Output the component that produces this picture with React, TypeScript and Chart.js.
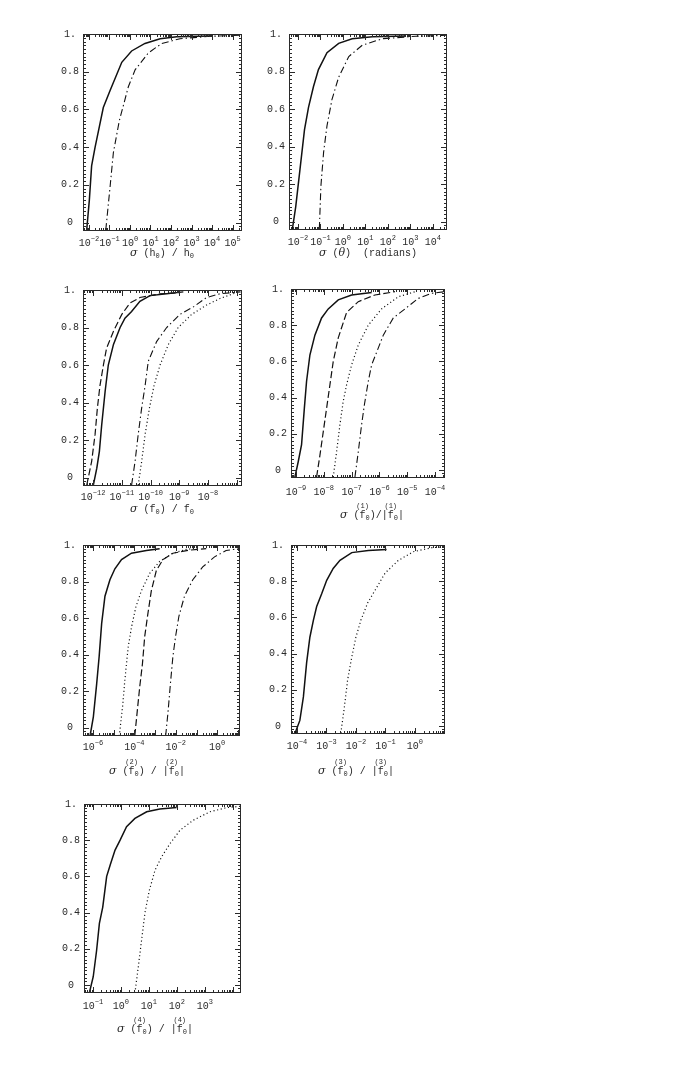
import React, { useEffect, useRef } from "react";
import { Chart, registerables } from "chart.js";
Chart.register(...registerables);

// ---------- data (x as log10 values, y as cumulative fraction) ----------
const Y_TICKS = [0, 0.2, 0.4, 0.6, 0.8, 1];

const p1SolidLogX = [-2.11, -1.98, -1.87, -1.7, -1.49, -1.3, -0.97, -0.4, 0.08, 0.73, 1.47, 2.28, 3.9];
const p1SolidY = [-0.04, 0.12, 0.3, 0.4, 0.51, 0.61, 0.7, 0.85, 0.91, 0.95, 0.975, 0.985, 0.99];
const p1DashDotLogX = [-1.18, -0.97, -0.81, -0.52, -0.08, 0.25, 0.9, 1.55, 2.44, 3.9, 5.37];
const p1DashDotY = [-0.04, 0.19, 0.37, 0.54, 0.72, 0.81, 0.9, 0.95, 0.975, 0.988, 0.993];

const p2SolidLogX = [-2.25, -2.1, -1.91, -1.71, -1.53, -1.31, -1.09, -0.71, -0.19, 0.41, 1.31, 2.8];
const p2SolidY = [-0.04, 0.08, 0.28, 0.49, 0.61, 0.72, 0.81, 0.9, 0.95, 0.975, 0.985, 0.99];
const p2DashDotLogX = [-1.05, -0.98, -0.86, -0.71, -0.49, -0.19, 0.26, 0.86, 1.76, 3.25, 4.62];
const p2DashDotY = [-0.04, 0.19, 0.37, 0.51, 0.65, 0.77, 0.88, 0.94, 0.975, 0.988, 0.993];

const p3DashLogX = [-12.22, -12.05, -11.93, -11.85, -11.76, -11.64, -11.53, -11.29, -11.0, -10.72, -10.37, -9.67, -9.0];
const p3DashY = [-0.04, 0.085, 0.23, 0.37, 0.49, 0.6, 0.69, 0.78, 0.87, 0.93, 0.96, 0.98, 0.985];
const p3SolidLogX = [-11.99, -11.87, -11.78, -11.7, -11.58, -11.47, -11.29, -11.06, -10.89, -10.66, -10.37, -10.02, -9.44, -8.86];
const p3SolidY = [-0.04, 0.05, 0.14, 0.28, 0.46, 0.6, 0.71, 0.8, 0.85, 0.885, 0.94, 0.97, 0.98, 0.99];
const p3DashDotLogX = [-10.66, -10.54, -10.43, -10.31, -10.19, -10.08, -9.79, -9.44, -8.98, -8.51, -8.05, -7.58, -6.89];
const p3DashDotY = [-0.04, 0.085, 0.23, 0.37, 0.49, 0.62, 0.725, 0.8, 0.87, 0.91, 0.96, 0.98, 0.99];
const p3DotLogX = [-10.43, -10.31, -10.19, -10.04, -9.88, -9.67, -9.38, -9.04, -8.57, -8.05, -7.58, -7.12, -6.83];
const p3DotY = [-0.04, 0.085, 0.23, 0.37, 0.49, 0.6, 0.71, 0.8, 0.87, 0.92, 0.955, 0.98, 0.99];

const p4SolidLogX = [-9.04, -8.92, -8.8, -8.7, -8.62, -8.5, -8.32, -8.08, -7.84, -7.48, -7.0, -6.28];
const p4SolidY = [-0.04, 0.045, 0.14, 0.34, 0.49, 0.635, 0.745, 0.84, 0.89, 0.94, 0.967, 0.98];
const p4DashLogX = [-8.26, -8.14, -8.02, -7.9, -7.78, -7.66, -7.48, -7.18, -6.76, -6.16, -5.44];
const p4DashY = [-0.04, 0.08, 0.21, 0.34, 0.47, 0.6, 0.73, 0.87, 0.93, 0.967, 0.985];
const p4DotLogX = [-7.66, -7.54, -7.42, -7.3, -7.18, -7.0, -6.76, -6.4, -5.92, -5.32, -4.72];
const p4DotY = [-0.04, 0.1, 0.25, 0.38, 0.47, 0.58, 0.69, 0.8, 0.89, 0.957, 0.985];
const p4DashDotLogX = [-6.88, -6.76, -6.64, -6.54, -6.4, -6.28, -6.1, -5.86, -5.5, -5.08, -4.6, -4.12, -3.66];
const p4DashDotY = [-0.04, 0.1, 0.25, 0.36, 0.49, 0.58, 0.65, 0.745, 0.84, 0.89, 0.948, 0.976, 0.985];

const p5SolidLogX = [-6.14, -5.98, -5.82, -5.7, -5.58, -5.42, -5.18, -4.94, -4.62, -4.14, -3.42, -2.78];
const p5SolidY = [-0.045, 0.06, 0.24, 0.39, 0.57, 0.72, 0.81, 0.87, 0.92, 0.955, 0.97, 0.98];
const p5DotLogX = [-4.73, -4.57, -4.46, -4.3, -4.14, -3.93, -3.66, -3.26, -2.78, -2.14, -1.49, -0.85];
const p5DotY = [-0.045, 0.115, 0.26, 0.44, 0.55, 0.66, 0.75, 0.845, 0.91, 0.955, 0.976, 0.985];
const p5DashLogX = [-3.98, -3.87, -3.74, -3.61, -3.5, -3.34, -3.18, -2.94, -2.62, -2.14, -1.34, -0.53];
const p5DashY = [-0.045, 0.08, 0.225, 0.35, 0.5, 0.63, 0.75, 0.86, 0.92, 0.955, 0.972, 0.98];
const p5DashDotLogX = [-2.49, -2.38, -2.26, -2.14, -2.01, -1.85, -1.58, -1.18, -0.7, -0.13, 0.43, 1.07];
const p5DashDotY = [-0.045, 0.08, 0.24, 0.39, 0.5, 0.61, 0.72, 0.81, 0.88, 0.935, 0.97, 0.98];

const p6SolidLogX = [-4.06, -3.9, -3.78, -3.67, -3.56, -3.44, -3.33, -3.16, -2.99, -2.77, -2.54, -2.14, -1.58, -0.96];
const p6SolidY = [-0.04, 0.03, 0.16, 0.35, 0.49, 0.585, 0.66, 0.73, 0.805, 0.87, 0.915, 0.958, 0.97, 0.975];
const p6DotLogX = [-2.51, -2.39, -2.28, -2.14, -2.0, -1.83, -1.6, -1.35, -1.01, -0.56, -0.05, 0.57, 1.01];
const p6DotY = [-0.04, 0.105, 0.255, 0.38, 0.49, 0.585, 0.68, 0.75, 0.845, 0.915, 0.963, 0.985, 0.99];

const p7SolidLogX = [-1.13, -0.99, -0.87, -0.77, -0.65, -0.51, -0.37, -0.21, -0.03, 0.2, 0.5, 0.92, 1.39, 1.99];
const p7SolidY = [-0.045, 0.045, 0.19, 0.34, 0.43, 0.6, 0.67, 0.745, 0.8, 0.875, 0.92, 0.957, 0.972, 0.98];
const p7DotLogX = [0.5, 0.62, 0.74, 0.86, 1.01, 1.22, 1.46, 1.75, 2.11, 2.58, 3.18, 3.78, 4.25];
const p7DotY = [-0.045, 0.1, 0.25, 0.4, 0.52, 0.635, 0.71, 0.78, 0.855, 0.91, 0.957, 0.98, 0.987];

const p1Decades = [-2, -1, 0, 1, 2, 3, 4, 5];
const p2Decades = [-2, -1, 0, 1, 2, 3, 4];
const p3Decades = [-12, -11, -10, -9, -8];
const p4Decades = [-9, -8, -7, -6, -5, -4];
const p5Decades = [-6, -4, -2, 0];
const p6Decades = [-4, -3, -2, -1, 0];
const p7Decades = [-1, 0, 1, 2, 3];

// ---------- styling / layout ----------
const Y_MIN = -0.045;
const AXIS_W = 30;
const PAD_T = 12;
const PAD_R = 12;
const AXIS_H = 52;
const INK = "#2a2a2a";
const MONO = '"Liberation Mono", "DejaVu Sans Mono", monospace';

type Style = "solid" | "dash" | "dot" | "dashdot";
const DASH: Record<Style, number[]> = {
  solid: [],
  dash: [7, 3],
  dot: [1.1, 2.6],
  dashdot: [7, 3, 1.4, 3],
};
const WIDTH: Record<Style, number> = { solid: 1.5, dash: 1.2, dot: 1.2, dashdot: 1.1 };

type Part = { t: string; k?: "n" | "g" | "s" | "o" };
const P = (t: string, k: Part["k"] = "n"): Part => ({ t, k });

type Curve = { lx: number[]; y: number[]; s: Style };
type PanelCfg = {
  box: [number, number, number, number];
  minLog: number;
  maxLog: number;
  labels: number[];
  labelDy: number;
  title: Part[];
  titleX: number;
  titleY: number;
  curves: Curve[];
};

const fPart = (n: string, sep: string): Part[] => [
  P("σ", "g"), P(" ("), P("f"), P(`(${n})`, "o"), P("0", "s"), P(sep), P("f"), P(`(${n})`, "o"), P("0", "s"), P("|"),
];

const PANELS: PanelCfg[] = [
  {
    box: [83, 34, 242, 231], minLog: -2.29, maxLog: 5.46, labels: p1Decades, labelDy: 12,
    title: [P("σ", "g"), P(" (h"), P("0", "s"), P(") / h"), P("0", "s")], titleX: 162, titleY: 253,
    curves: [
      { lx: p1SolidLogX, y: p1SolidY, s: "solid" },
      { lx: p1DashDotLogX, y: p1DashDotY, s: "dashdot" },
    ],
  },
  {
    box: [289, 34, 447, 230], minLog: -2.4, maxLog: 4.63, labels: p2Decades, labelDy: 12,
    title: [P("σ", "g"), P(" ("), P("θ", "g"), P(")  (radians)")], titleX: 368, titleY: 253,
    curves: [
      { lx: p2SolidLogX, y: p2SolidY, s: "solid" },
      { lx: p2DashDotLogX, y: p2DashDotY, s: "dashdot" },
    ],
  },
  {
    box: [83, 290, 242, 486], minLog: -12.35, maxLog: -6.82, labels: p3Decades, labelDy: 11,
    title: [P("σ", "g"), P(" (f"), P("0", "s"), P(") / f"), P("0", "s")], titleX: 162, titleY: 509,
    curves: [
      { lx: p3DashLogX, y: p3DashY, s: "dash" },
      { lx: p3SolidLogX, y: p3SolidY, s: "solid" },
      { lx: p3DashDotLogX, y: p3DashDotY, s: "dashdot" },
      { lx: p3DotLogX, y: p3DotY, s: "dot" },
    ],
  },
  {
    box: [291, 289, 445, 478], minLog: -9.18, maxLog: -3.64, labels: p4Decades, labelDy: 14,
    title: fPart("1", ")/|"), titleX: 372, titleY: 515,
    curves: [
      { lx: p4SolidLogX, y: p4SolidY, s: "solid" },
      { lx: p4DashLogX, y: p4DashY, s: "dash" },
      { lx: p4DotLogX, y: p4DotY, s: "dot" },
      { lx: p4DashDotLogX, y: p4DashDotY, s: "dashdot" },
    ],
  },
  {
    box: [83, 545, 240, 736], minLog: -6.48, maxLog: 1.1, labels: p5Decades, labelDy: 11,
    title: fPart("2", ") / |"), titleX: 147, titleY: 771,
    curves: [
      { lx: p5SolidLogX, y: p5SolidY, s: "solid" },
      { lx: p5DotLogX, y: p5DotY, s: "dot" },
      { lx: p5DashLogX, y: p5DashY, s: "dash" },
      { lx: p5DashDotLogX, y: p5DashDotY, s: "dashdot" },
    ],
  },
  {
    box: [291, 545, 445, 734], minLog: -4.2, maxLog: 1.02, labels: p6Decades, labelDy: 12,
    title: fPart("3", ") / |"), titleX: 356, titleY: 771,
    curves: [
      { lx: p6SolidLogX, y: p6SolidY, s: "solid" },
      { lx: p6DotLogX, y: p6DotY, s: "dot" },
    ],
  },
  {
    box: [84, 804, 241, 993], minLog: -1.32, maxLog: 4.29, labels: p7Decades, labelDy: 13,
    title: fPart("4", ") / |"), titleX: 155, titleY: 1029,
    curves: [
      { lx: p7SolidLogX, y: p7SolidY, s: "solid" },
      { lx: p7DotLogX, y: p7DotY, s: "dot" },
    ],
  },
];

function fontFor(k: Part["k"]) {
  if (k === "g") return 'italic 11px "DejaVu Serif", serif';
  if (k === "s" || k === "o") return `7px ${MONO}`;
  return `10px ${MONO}`;
}

function makePlugin(cfg: PanelCfg) {
  return {
    id: "paperFrame",
    afterDraw(chart: any) {
      const { ctx, chartArea: a } = chart;
      const xs = chart.scales.x;
      const ys = chart.scales.y;
      ctx.save();
      ctx.strokeStyle = INK;
      ctx.lineWidth = 1;
      ctx.setLineDash([]);
      ctx.strokeRect(a.left + 0.5, a.top + 0.5, a.right - a.left - 1, a.bottom - a.top - 1);
      const seg = (x1: number, y1: number, x2: number, y2: number) => {
        ctx.beginPath();
        ctx.moveTo(x1, y1);
        ctx.lineTo(x2, y2);
        ctx.stroke();
      };
      // log ticks top & bottom
      for (let d = Math.floor(cfg.minLog); d <= Math.ceil(cfg.maxLog); d++) {
        for (let m = 1; m <= 9; m++) {
          const v = m * Math.pow(10, d);
          const lv = Math.log10(v);
          if (lv < cfg.minLog || lv > cfg.maxLog) continue;
          const px = Math.round(xs.getPixelForValue(v)) + 0.5;
          const len = m === 1 ? 6 : 3;
          seg(px, a.bottom, px, a.bottom - len);
          seg(px, a.top, px, a.top + len);
        }
      }
      // linear ticks left & right
      for (let i = -2; i <= 50; i++) {
        const v = i * 0.02;
        if (v < Y_MIN) continue;
        const py = Math.round(ys.getPixelForValue(v)) + 0.5;
        const len = i % 10 === 0 ? 6 : 3;
        seg(a.left, py, a.left + len, py);
        seg(a.right, py, a.right - len, py);
      }
      // x tick labels: 10^k
      ctx.fillStyle = INK;
      ctx.textBaseline = "middle";
      ctx.textAlign = "left";
      const ly = a.bottom + cfg.labelDy;
      for (const d of cfg.labels) {
        const px = xs.getPixelForValue(Math.pow(10, d));
        const ex = d < 0 ? "−" + Math.abs(d) : String(d);
        ctx.font = `10px ${MONO}`;
        const w1 = ctx.measureText("10").width;
        ctx.font = `7px ${MONO}`;
        const w2 = ctx.measureText(ex).width;
        const x0 = px - (w1 + w2) / 2;
        ctx.font = `10px ${MONO}`;
        ctx.fillText("10", x0, ly);
        ctx.font = `7px ${MONO}`;
        ctx.fillText(ex, x0 + w1, ly - 4);
      }
      // axis title
      const oy = a.top - PAD_T; // canvas offset
      const tx = cfg.titleX - (cfg.box[0] - AXIS_W);
      const ty = cfg.titleY - (cfg.box[1] - PAD_T);
      let total = 0;
      for (const p of cfg.title) {
        if (p.k === "o") continue;
        ctx.font = fontFor(p.k);
        total += ctx.measureText(p.t).width;
      }
      let cx = tx - total / 2;
      let lastX = cx;
      let lastW = 0;
      for (const p of cfg.title) {
        ctx.font = fontFor(p.k);
        const w = ctx.measureText(p.t).width;
        if (p.k === "o") {
          ctx.fillText(p.t, lastX + lastW / 2 - w / 2, ty - 9);
          continue;
        }
        const dy = p.k === "s" ? 3 : 0;
        ctx.fillText(p.t, cx, ty + dy + oy * 0);
        lastX = cx;
        lastW = w;
        cx += w;
      }
      ctx.restore();
    },
  };
}

function Panel({ cfg }: { cfg: PanelCfg }) {
  const ref = useRef<HTMLCanvasElement>(null);
  const [l, t, r, b] = cfg.box;
  const w = r - l + AXIS_W + PAD_R;
  const h = b - t + PAD_T + AXIS_H;
  useEffect(() => {
    const chart = new Chart(ref.current as HTMLCanvasElement, {
      type: "scatter",
      data: {
        datasets: cfg.curves.map((c) => ({
          data: c.lx.map((lx, i) => ({ x: Math.pow(10, lx), y: c.y[i] })),
          showLine: true,
          borderColor: "#111",
          borderWidth: WIDTH[c.s],
          borderDash: DASH[c.s],
          pointRadius: 0,
          pointHoverRadius: 0,
          fill: false,
          tension: 0,
        })),
      },
      options: {
        responsive: false,
        animation: false,
        events: [],
        layout: { padding: { left: 0, top: PAD_T, right: PAD_R, bottom: 0 } },
        plugins: { legend: { display: false }, tooltip: { enabled: false } },
        scales: {
          x: {
            type: "logarithmic",
            min: Math.pow(10, cfg.minLog),
            max: Math.pow(10, cfg.maxLog),
            ticks: { display: false },
            grid: { display: false, drawTicks: false },
            border: { display: false },
            afterFit: (s: any) => {
              s.height = AXIS_H;
            },
          },
          y: {
            type: "linear",
            min: Y_MIN,
            max: 1,
            grid: { display: false, drawTicks: false },
            border: { display: false },
            ticks: {
              autoSkip: false,
              padding: 4,
              crossAlign: "center",
              color: INK,
              font: { family: MONO, size: 10 },
              callback: (v: any) => (v === 1 ? "1." : v === 0 ? "0" : Number(v).toFixed(1)),
            },
            afterBuildTicks: (s: any) => {
              s.ticks = Y_TICKS.map((v) => ({ value: v }));
            },
            afterFit: (s: any) => {
              s.width = AXIS_W;
            },
          },
        },
      } as any,
      plugins: [makePlugin(cfg)],
    });
    return () => chart.destroy();
  }, []);
  return (
    <canvas
      ref={ref}
      width={w}
      height={h}
      style={{ position: "absolute", left: l - AXIS_W, top: t - PAD_T, width: w, height: h }}
    />
  );
}

export default function App() {
  return (
    <div style={{ position: "absolute", left: 0, top: 0, width: 680, height: 1073, background: "#fff" }}>
      {PANELS.map((p, i) => (
        <Panel key={i} cfg={p} />
      ))}
    </div>
  );
}
